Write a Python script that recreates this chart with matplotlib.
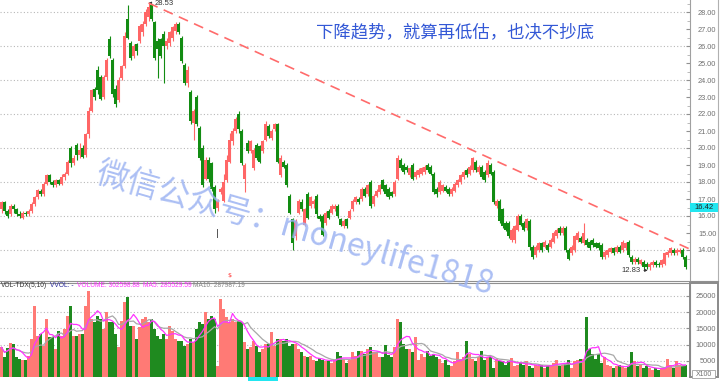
import matplotlib
matplotlib.use("Agg")
import matplotlib.pyplot as plt
from matplotlib.lines import Line2D
from matplotlib.patches import Rectangle
import numpy as np
import pandas as pd

# candle data (one row of 10 per line)
opens = [
    16.4, 16.8, 16.3, 16.1, 16.6, 16.4, 16.1, 15.9, 16.2, 16.1,
    16.3, 16.7, 17.1, 17.5, 17.3, 17.9, 18.4, 18.0, 17.8, 18.1,
    17.9, 18.3, 18.5, 20.0, 19.1, 20.2, 19.6, 20.0, 19.6, 20.8,
    22.2, 23.5, 24.6, 24.2, 23.0, 24.2, 26.4, 25.2, 23.5, 22.8,
    24.1, 24.8, 27.6, 26.2, 25.4, 26.1, 26.3, 26.8, 27.3, 27.7,
    28.4, 27.4, 26.3, 26.4, 26.7, 26.0, 26.2, 26.5, 26.9, 27.3,
    26.5, 24.9, 23.8, 23.3, 21.5, 23.0, 21.2, 20.0, 18.2, 19.3,
    19.1, 17.7, 16.5, 17.4, 16.9, 18.1, 19.2, 20.4, 21.0, 22.0,
    21.0, 18.2, 20.3, 19.8, 18.8, 20.2, 20.1, 19.8, 20.5, 21.3,
    20.6, 21.1, 21.4, 18.4, 19.2, 19.0, 17.2, 15.8, 14.8, 16.2,
    16.8, 15.5, 17.3, 16.6, 16.7, 17.2, 16.0, 16.0, 15.6, 16.3,
    16.2, 16.4, 16.6, 15.8, 15.4, 15.8, 15.9, 16.4, 16.8, 17.0,
    17.0, 17.6, 17.3, 18.0, 16.7, 17.2, 17.4, 18.1, 17.8, 17.6,
    17.4, 17.3, 18.2, 19.3, 19.0, 18.9, 18.4, 19.0, 18.3, 18.4,
    18.5, 18.6, 19.0, 18.9, 18.5, 17.6, 17.4, 17.5, 17.7, 17.6,
    17.3, 17.5, 17.8, 18.0, 18.3, 18.7, 18.5, 18.7, 19.2, 18.6,
    18.9, 18.6, 18.4, 19.0, 18.6, 16.6, 16.9, 16.4, 15.6, 15.6,
    14.6, 14.6, 15.2, 16.0, 15.6, 15.3, 15.7, 14.2, 13.7, 14.0,
    14.4, 14.2, 14.3, 14.2, 14.5, 14.8, 15.3, 15.0, 15.3, 14.0,
    13.8, 14.0, 14.6, 14.7, 14.4, 14.6, 14.5, 14.6, 14.4, 14.4,
    14.3, 13.6, 13.7, 13.9, 14.1, 13.9, 14.2, 14.0, 14.1, 14.5,
    13.6, 13.3, 13.5, 13.2, 13.3, 13.2, 13.0, 13.1, 13.3, 13.2,
    13.1, 13.2, 13.7, 13.8, 14.0, 13.8, 13.9, 14.0, 13.6,
]
closes = [
    16.8, 16.3, 16.0, 16.6, 16.4, 16.1, 16.0, 16.2, 16.1, 16.3,
    16.7, 17.1, 17.5, 17.3, 17.9, 18.4, 18.0, 17.8, 18.1, 17.9,
    18.3, 18.5, 19.2, 19.1, 19.4, 19.6, 19.9, 19.5, 20.8, 22.2,
    23.4, 23.0, 23.4, 22.9, 24.2, 25.2, 25.4, 23.2, 22.6, 24.0,
    24.8, 26.6, 26.5, 25.3, 26.0, 25.7, 27.2, 27.3, 28.0, 28.3,
    27.6, 25.3, 25.8, 25.4, 26.0, 26.3, 26.8, 27.1, 27.3, 26.8,
    25.1, 23.8, 24.6, 21.6, 22.2, 21.4, 19.4, 17.8, 19.3, 18.2,
    17.6, 16.4, 16.9, 17.6, 18.0, 19.3, 20.5, 21.0, 21.7, 21.1,
    19.1, 19.0, 19.8, 20.4, 19.9, 19.4, 19.2, 20.4, 21.4, 20.7,
    21.0, 21.4, 19.2, 19.4, 18.9, 17.8, 16.2, 14.4, 15.7, 16.9,
    16.4, 16.4, 15.9, 17.1, 16.9, 16.1, 15.8, 14.9, 16.2, 15.9,
    16.6, 16.6, 16.0, 15.5, 15.7, 15.4, 16.3, 16.9, 17.1, 16.8,
    17.6, 17.2, 17.8, 16.6, 17.2, 17.5, 17.8, 17.6, 17.3, 17.1,
    17.2, 18.0, 19.4, 18.8, 18.6, 18.7, 18.8, 18.2, 18.6, 18.7,
    18.8, 18.9, 18.7, 18.5, 17.4, 17.3, 18.0, 17.8, 17.5, 17.3,
    17.6, 17.9, 18.1, 18.4, 18.6, 18.4, 18.9, 19.4, 18.7, 18.9,
    18.3, 18.1, 19.1, 18.5, 16.8, 16.9, 15.7, 15.4, 15.2, 14.8,
    15.2, 15.4, 16.0, 15.5, 15.2, 15.8, 14.2, 13.6, 14.2, 14.4,
    14.0, 14.5, 14.0, 14.6, 15.0, 15.2, 15.0, 15.3, 14.0, 13.5,
    14.2, 14.8, 15.0, 14.5, 15.0, 14.3, 14.1, 14.3, 14.2, 14.1,
    13.6, 13.9, 14.0, 14.1, 13.8, 14.2, 13.9, 14.5, 14.4, 13.7,
    13.3, 13.5, 13.3, 13.4, 13.0, 13.0, 13.2, 13.3, 13.1, 13.1,
    13.4, 13.8, 13.9, 14.1, 13.8, 14.0, 14.0, 13.6, 13.0,
]
highs = [
    16.9, 16.9, 16.4, 16.7, 16.7, 16.5, 16.3, 16.3, 16.3, 16.4,
    16.8, 17.2, 17.6, 17.6, 18.0, 18.5, 18.5, 18.1, 18.2, 18.2,
    18.5, 18.6, 19.3, 20.1, 19.6, 20.3, 20.3, 20.2, 20.9, 22.4,
    23.5, 23.6, 24.8, 24.3, 24.3, 25.3, 26.6, 25.3, 23.7, 24.2,
    24.9, 26.8, 28.4, 26.3, 26.1, 26.2, 27.3, 27.5, 28.2, 28.53,
    28.5, 27.5, 26.5, 26.5, 26.9, 26.5, 26.9, 27.2, 27.4, 27.4,
    26.6, 25.0, 24.8, 23.4, 22.3, 23.1, 21.3, 20.2, 19.5, 19.5,
    19.2, 17.8, 17.0, 17.7, 18.5, 19.6, 20.9, 21.2, 21.8, 22.2,
    21.1, 19.1, 20.5, 20.5, 20.0, 20.3, 20.2, 20.5, 21.6, 21.4,
    21.1, 21.5, 21.5, 19.6, 19.3, 19.1, 17.3, 15.9, 15.8, 17.0,
    17.0, 16.5, 17.4, 17.2, 17.0, 17.3, 16.1, 16.1, 16.3, 16.4,
    16.7, 16.7, 16.7, 15.9, 15.8, 15.9, 16.4, 17.0, 17.2, 17.1,
    17.7, 17.7, 17.9, 18.1, 17.3, 17.6, 17.9, 18.2, 17.9, 17.7,
    17.5, 18.1, 19.6, 19.4, 19.1, 19.0, 18.9, 19.1, 18.7, 18.8,
    18.9, 19.0, 19.1, 19.0, 18.6, 17.7, 18.1, 17.9, 17.8, 17.7,
    17.7, 18.0, 18.2, 18.5, 18.7, 18.8, 19.0, 19.5, 19.3, 19.0,
    19.0, 18.7, 19.3, 19.1, 18.7, 17.0, 17.0, 16.5, 15.7, 15.7,
    15.3, 15.5, 16.1, 16.1, 15.7, 15.9, 15.8, 14.3, 14.3, 14.5,
    14.5, 14.6, 14.4, 14.7, 15.1, 15.3, 15.4, 15.4, 15.4, 14.1,
    14.3, 14.9, 15.1, 14.8, 15.6, 14.7, 14.6, 14.7, 14.5, 14.5,
    14.4, 14.0, 14.1, 14.2, 14.2, 14.3, 14.3, 14.6, 14.5, 14.6,
    13.7, 13.6, 13.6, 13.5, 13.4, 13.3, 13.3, 13.4, 13.4, 13.3,
    13.5, 13.9, 14.0, 14.2, 14.1, 14.1, 14.1, 14.1, 13.7,
]
lows = [
    16.2, 16.1, 15.9, 16.0, 16.2, 16.0, 15.9, 15.8, 16.0, 16.0,
    16.2, 16.6, 17.0, 17.2, 17.2, 17.8, 17.9, 17.7, 17.7, 17.8,
    17.8, 18.1, 18.4, 18.9, 19.0, 19.3, 19.4, 19.4, 19.5, 20.6,
    22.1, 22.8, 23.2, 22.8, 22.9, 24.0, 25.3, 23.0, 22.4, 22.7,
    24.0, 24.7, 26.4, 25.2, 25.3, 25.5, 26.2, 26.6, 27.2, 27.5,
    27.5, 25.2, 24.1, 25.3, 23.8, 25.8, 26.0, 26.3, 26.7, 26.7,
    25.0, 23.7, 23.6, 21.4, 20.5, 21.3, 19.3, 17.7, 18.1, 18.0,
    17.5, 16.2, 16.3, 17.3, 16.8, 18.0, 19.1, 20.2, 20.9, 20.9,
    19.0, 17.4, 19.7, 19.7, 18.7, 19.3, 19.1, 19.7, 20.4, 20.6,
    20.5, 21.0, 19.1, 18.3, 18.8, 17.7, 16.1, 14.0, 14.6, 16.1,
    16.3, 15.4, 15.8, 16.5, 16.5, 15.9, 15.7, 14.8, 15.5, 15.8,
    16.1, 16.3, 15.9, 15.4, 15.3, 15.3, 15.8, 16.3, 16.7, 16.7,
    16.9, 17.1, 17.2, 16.5, 16.6, 17.1, 17.3, 17.5, 17.2, 17.0,
    17.1, 17.2, 18.1, 18.7, 18.5, 18.6, 18.3, 18.1, 18.2, 18.3,
    18.4, 18.5, 18.6, 18.4, 17.3, 17.1, 17.3, 17.4, 17.4, 17.2,
    17.2, 17.4, 17.7, 17.9, 18.2, 18.3, 18.4, 18.6, 18.6, 18.5,
    18.2, 18.0, 18.3, 18.4, 16.7, 16.5, 15.6, 15.3, 15.1, 14.7,
    14.5, 14.4, 15.1, 15.4, 15.1, 15.2, 14.0, 13.5, 13.6, 13.9,
    13.9, 14.1, 13.9, 14.1, 14.4, 14.7, 14.9, 14.9, 13.9, 13.4,
    13.7, 13.9, 14.5, 14.4, 14.3, 14.2, 14.0, 14.2, 14.1, 14.0,
    13.5, 13.5, 13.6, 13.8, 13.7, 13.8, 13.8, 13.9, 14.0, 13.6,
    13.2, 13.2, 13.2, 13.1, 12.9, 12.9, 12.83, 13.0, 13.0, 13.0,
    13.0, 13.1, 13.6, 13.7, 13.7, 13.7, 13.8, 13.5, 12.9,
]
volumes = [
    9150, 6060, 9030, 10570, 10060, 6060, 5540, 5340, 5340, 6570,
    11700, 21970, 12730, 13240, 9650, 17870, 12220, 12220, 8620, 14270,
    12730, 14780, 18900, 21970, 12730, 12730, 13240, 13240, 21970, 26600,
    17870, 16840, 18890, 17870, 14780, 20000, 16840, 16840, 13240, 9140,
    17350, 23000, 24560, 15810, 15810, 11700, 15300, 17870, 18380, 16840,
    17870, 14780, 12730, 11700, 13240, 11700, 15810, 14270, 11700, 11190,
    11190, 9650, 10160, 11700, 10680, 14780, 16840, 16330, 19910, 17870,
    18890, 17870, 3540, 24000, 20930, 18380, 16840, 17870, 16840, 17350,
    16840, 10680, 8620, 9140, 11190, 9650, 7600, 8620, 10160, 10160,
    13750, 9650, 11700, 11700, 11190, 11700, 9650, 10160, 10160, 8620,
    7600, 6570, 6060, 6570, 5340, 4830, 5850, 5340, 4830, 4830,
    4310, 5340, 7600, 6570, 5540, 4310, 5340, 7600, 6570, 8100,
    8100, 7090, 8620, 9140, 7600, 7600, 6060, 6060, 9870, 6780,
    6060, 9140, 17870, 16840, 10160, 8620, 8620, 7600, 12220, 5340,
    7090, 6060, 8100, 6570, 7090, 6060, 5540, 4310, 5340, 3800,
    3290, 4830, 7600, 5540, 6060, 11190, 7090, 5540, 4830, 6060,
    8100, 5340, 6060, 6060, 2770, 5540, 4830, 4830, 3800, 4830,
    5850, 3290, 3800, 4310, 3800, 4830, 3290, 2770, 3800, 3290,
    3800, 2770, 3290, 3800, 4310, 5340, 3290, 3800, 4310, 5340,
    2770, 4830, 5340, 5540, 5540, 18380, 8620, 7090, 5540, 7090,
    4310, 6060, 3800, 3290, 2770, 3290, 3800, 3290, 2770, 3290,
    7600, 4830, 3290, 3800, 2770, 3290, 2770, 2260, 2770, 2260,
    2770, 2770, 5540, 3800, 2770, 4830, 3800, 3290, 3800,
]

# trend line endpoints (bar index, price)
trend_x = [49, 229.5]
trend_y = [28.53, 14.05]

high_label = "28.53"
low_label = "12.83"
cursor_price = 16.42

price_ticks = list(range(14, 29))
vol_ticks = [5000, 10000, 15000, 20000, 25000]

legend_texts = ["VOL-TDX(5,10)", "VVOL: -", "VOLUME: 302598.88", "MA5: 285529.59", "MA10: 287987.19"]

RED = "#ff6666"
GREEN = "#128c12"
CJK = ["Noto Sans CJK SC", "DejaVu Sans"]

o = np.array(opens)
c = np.array(closes)
h = np.array(highs)
l = np.array(lows)
v = np.array(volumes)
x = np.arange(len(o))
up = c >= o
cols = np.where(up, RED, GREEN)

W, H = 720, 381
fig = plt.figure(figsize=(7.2, 3.81), dpi=100)
fig.patch.set_facecolor("white")
axr = 690 / W
ax1 = fig.add_axes([0, 1 - 281 / H, axr, 281 / H])
ax2 = fig.add_axes([0, 1 - 377 / H, axr, (377 - 283) / H])

# ---- price panel ----
for y in range(14, 29, 2):
    ax1.axhline(y, color="#b8b8b8", lw=0.8, ls=(0, (1, 2)), zorder=0)
ax1.vlines(x, l, h, colors=cols, lw=0.8, zorder=2)
body = np.maximum(np.abs(c - o), 0.06)
ax1.bar(x, body, bottom=np.minimum(o, c), width=0.72, color=cols, lw=0, zorder=3)
ax1.plot(trend_x, trend_y, color="#ff6b6b", lw=1.2, dashes=(6, 4), zorder=4)

ax1.set_xlim(-0.5, 229.5)
ax1.set_ylim(28 - 269 / 17, 28 + 12 / 17)
for s in ["left", "top", "bottom"]:
    ax1.spines[s].set_visible(False)
ax1.spines["right"].set_color("#a0a0a0")
ax1.set_xticks([])
ax1.yaxis.tick_right()
ax1.set_yticks(price_ticks)
ax1.set_yticks(np.arange(13.5, 28.6, 1.0), minor=True)
ax1.set_yticklabels(["%.2f" % t for t in price_ticks])
ax1.tick_params(axis="y", which="major", direction="in", length=3, color="#909090",
                labelsize=5.3, labelcolor="#707070", pad=19)
ax1.tick_params(axis="y", which="minor", direction="in", length=2, color="#b0b0b0")
for t in ax1.get_yticklabels():
    t.set_ha("right")
    t.set_family("Liberation Sans")

# annotations
i_hi = int(np.argmax(h))
i_lo = int(np.argmin(l))
ax1.annotate(high_label, xy=(i_hi, h[i_hi]), xytext=(i_hi + 2, h[i_hi] - 0.05),
             fontsize=5.5, color="#333333", va="center", family="Liberation Sans",
             arrowprops=dict(arrowstyle="-|>", color="#333333", lw=0.6,
                             mutation_scale=4, shrinkA=0, shrinkB=0))
ax1.annotate(low_label, xy=(i_lo - 0.6, l[i_lo] - 0.02), xytext=(i_lo - 6, l[i_lo] - 0.06),
             fontsize=5.5, color="#333333", va="center", ha="center", family="Liberation Sans",
             arrowprops=dict(arrowstyle="-|>", color="#333333", lw=0.6,
                             mutation_scale=4, shrinkA=9, shrinkB=0))
ax1.text(72, 15.0, "|", fontsize=6, color="#222222", ha="center", va="center")
ax1.text(76, 12.5, "$", fontsize=4.5, color="#ff2020", ha="center", va="center")

ax1.text(455 / 690, 1 - 32 / 281, "下降趋势，就算再低估，也决不抄底", transform=ax1.transAxes,
         fontsize=12.5, color="#3358d6", family=CJK, ha="center", va="center")

# cursor price box
fig.patches.append(Rectangle((690 / W, 1 - 212 / H), 28 / W, 9 / H, transform=fig.transFigure,
                             facecolor="#22e6f0", edgecolor="none", zorder=5))
fig.text(704 / W, 1 - 207.5 / H, "%.2f" % cursor_price, fontsize=5.5, color="#222222",
         ha="center", va="center", family="Liberation Sans", zorder=6)

# ---- volume panel ----
for y in vol_ticks:
    ax2.axhline(y, color="#b8b8b8", lw=0.8, ls=(0, (1, 2)), zorder=0)
ax2.bar(x, v, width=0.72, color=np.where(up, "#ff7a75", "#1f8a1f"), lw=0, zorder=2)
vs = pd.Series(v)
ax2.plot(x, vs.rolling(10, min_periods=1).mean(), color="#a8a8a8", lw=0.9, zorder=3)
ax2.plot(x, vs.rolling(5, min_periods=1).mean(), color="#ff33ff", lw=0.9, zorder=4)
ax2.set_xlim(-0.5, 229.5)
ax2.set_ylim(0, 29000)
for s in ["left", "bottom"]:
    ax2.spines[s].set_visible(False)
ax2.spines["top"].set_color("#909090")
ax2.spines["right"].set_color("#909090")
ax2.set_xticks([])
ax2.yaxis.tick_right()
ax2.set_yticks(vol_ticks)
ax2.set_yticklabels([str(t) for t in vol_ticks])
ax2.tick_params(axis="y", direction="in", length=3, color="#909090",
                labelsize=5.3, labelcolor="#707070", pad=19)
for t in ax2.get_yticklabels():
    t.set_ha("right")
    t.set_family("Liberation Sans")

# volume legend
ly = 1 - 285.5 / H
legend_x = [1, 50, 77, 143, 193]
legend_cols = ["#333333", "#2a2a9a", "#ff33ff", "#ff33ff", "#888888"]
for xp, txt, col in zip(legend_x, legend_texts, legend_cols):
    fig.text(xp / W, ly, txt, fontsize=4.8, color=col, va="center", family="Liberation Sans")

# right side frames
fig.add_artist(Line2D([718 / W, 718 / W], [1 - 281 / H, 1], color="#b0b0b0", lw=0.8))
fig.add_artist(Line2D([0, 718 / W], [1 - 281 / H, 1 - 281 / H], color="#909090", lw=0.8))
fig.patches.append(Rectangle((690 / W, 1 - 377 / H), 28 / W, 94 / H, transform=fig.transFigure,
                             facecolor="none", edgecolor="#8a8a8a", lw=1.4, zorder=5))
fig.patches.append(Rectangle((692 / W, 1 - 378 / H), 23 / W, 8 / H, transform=fig.transFigure,
                             facecolor="white", edgecolor="#a0a0a0", lw=0.6, zorder=6))
fig.text(703.5 / W, 1 - 374 / H, "X100", fontsize=5, color="#707070", ha="center",
         va="center", family="Liberation Sans", zorder=7)
fig.patches.append(Rectangle((248 / W, 0), 30 / W, 4 / H, transform=fig.transFigure,
                             facecolor="#22e6f0", edgecolor="none"))

# watermark
fig.text(295 / W, 1 - 228 / H, "微信公众号：moneylife1818", fontsize=23, color="#9db4f2",
         alpha=0.85, rotation=-16, ha="center", va="center", family=CJK, zorder=10)

fig.savefig("out.png", dpi=100)
